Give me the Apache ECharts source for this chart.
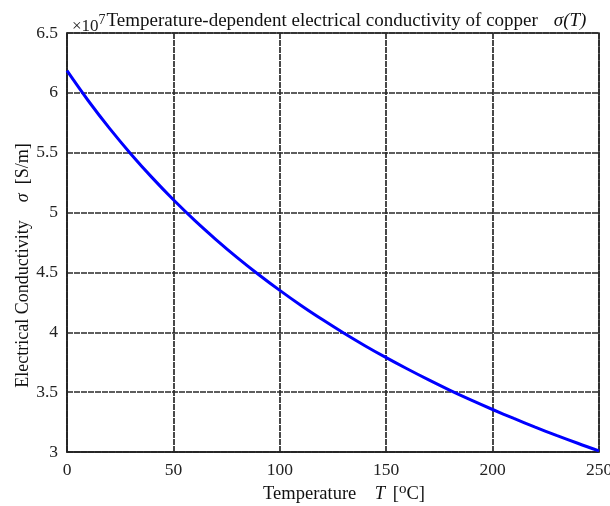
<!DOCTYPE html>
<html>
<head>
<meta charset="utf-8">
<script src="https://cdn.jsdelivr.net/npm/echarts@6/dist/echarts.min.js"></script>
<style>html,body{margin:0;padding:0;background:#fff;}#c{width:610px;height:506px;}</style>
</head>
<body>
<div id="c"></div>
<script>
// Temperature in °C
var temperature = [0,10,20,30,40,50,60,70,80,90,100,110,120,130,140,150,160,170,180,190,200,210,220,230,240,250];
// Conductivity in units of 1e7 S/m
var conductivity = [6.185,5.934,5.703,5.490,5.292,5.107,4.935,4.775,4.624,4.483,4.350,4.224,4.106,3.994,3.888,3.788,3.693,3.602,3.515,3.433,3.355,3.280,3.208,3.139,3.073,3.010];
var xTicks = [0,50,100,150,200,250];
var yTicks = [3,3.5,4,4.5,5,5.5,6,6.5];

var points = temperature.map(function(t,i){return [t, conductivity[i]];});
var F = '"Liberation Serif","Times New Roman",serif';
var gridLine = {show:true, lineStyle:{color:'#2a2a2a', width:1.7, type:[6,1]}};

var chart = echarts.init(document.getElementById('c'));
chart.setOption({
  animation:false,
  backgroundColor:'#fff',
  grid:{left:67, right:11, top:33, bottom:54, show:true, borderColor:'#222', borderWidth:1.5, outerBoundsMode:'none', containLabel:false},
  title:{
    left:67, top:2,
    text:'{x|×10}{s|7}{t|Temperature-dependent electrical conductivity of copper}{i|σ(T)}',
    textStyle:{
      fontWeight:'normal',
      rich:{
        x:{fontFamily:F, fontSize:17, fontWeight:'normal', color:'#222', padding:[11,0,0,0]},
        s:{fontFamily:F, fontSize:14, fontWeight:'normal', color:'#222', padding:[0,0,2,0]},
        t:{fontFamily:F, fontSize:19, fontWeight:'normal', color:'#111', padding:[0,0,0,1]},
        i:{fontFamily:F, fontSize:19, fontWeight:'normal', color:'#111', fontStyle:'italic', padding:[0,0,0,16]}
      }
    }
  },
  xAxis:{
    type:'value', min:0, max:250, interval:50,
    axisLine:{show:true, lineStyle:{color:'#222', width:1.5}},
    axisTick:{show:false},
    axisLabel:{fontFamily:F, fontSize:17.5, color:'#222', margin:9,
      formatter:function(v){return xTicks.indexOf(v)>=0 ? String(v) : '';}},
    splitLine:gridLine,
    name:'{e|}{n|Temperature    }{i|T}{n| [}{s|o}{n|C]}',
    nameLocation:'middle', nameGap:30, nameMoveOverlap:false,
    nameTextStyle:{rich:{
      e:{width:22},
      n:{fontFamily:F, fontSize:18.5, color:'#111'},
      i:{fontFamily:F, fontSize:18.5, color:'#111', fontStyle:'italic', padding:[0,3,0,0]},
      s:{fontFamily:F, fontSize:15, color:'#111', padding:[0,0,9,0]}
    }}
  },
  yAxis:{
    type:'value', min:3, max:6.5, interval:0.5,
    axisLine:{show:true, lineStyle:{color:'#222', width:1.5}},
    axisTick:{show:false},
    axisLabel:{fontFamily:F, fontSize:17.5, color:'#222', margin:9,
      formatter:function(v){return yTicks.indexOf(v)>=0 ? String(v) : '';}},
    splitLine:gridLine,
    name:'{n|Electrical Conductivity    }{i|σ}{n|  [S/m]}{e|}',
    nameLocation:'middle', nameGap:35, nameMoveOverlap:false,
    nameTextStyle:{rich:{
      n:{fontFamily:F, fontSize:18, color:'#111'},
      i:{fontFamily:F, fontSize:18, color:'#111', fontStyle:'italic'},
      e:{width:46}
    }}
  },
  series:[{
    type:'line', data:points, showSymbol:false, smooth:0.4,
    lineStyle:{color:'#0000ff', width:3}
  }]
});
</script>
</body>
</html>
